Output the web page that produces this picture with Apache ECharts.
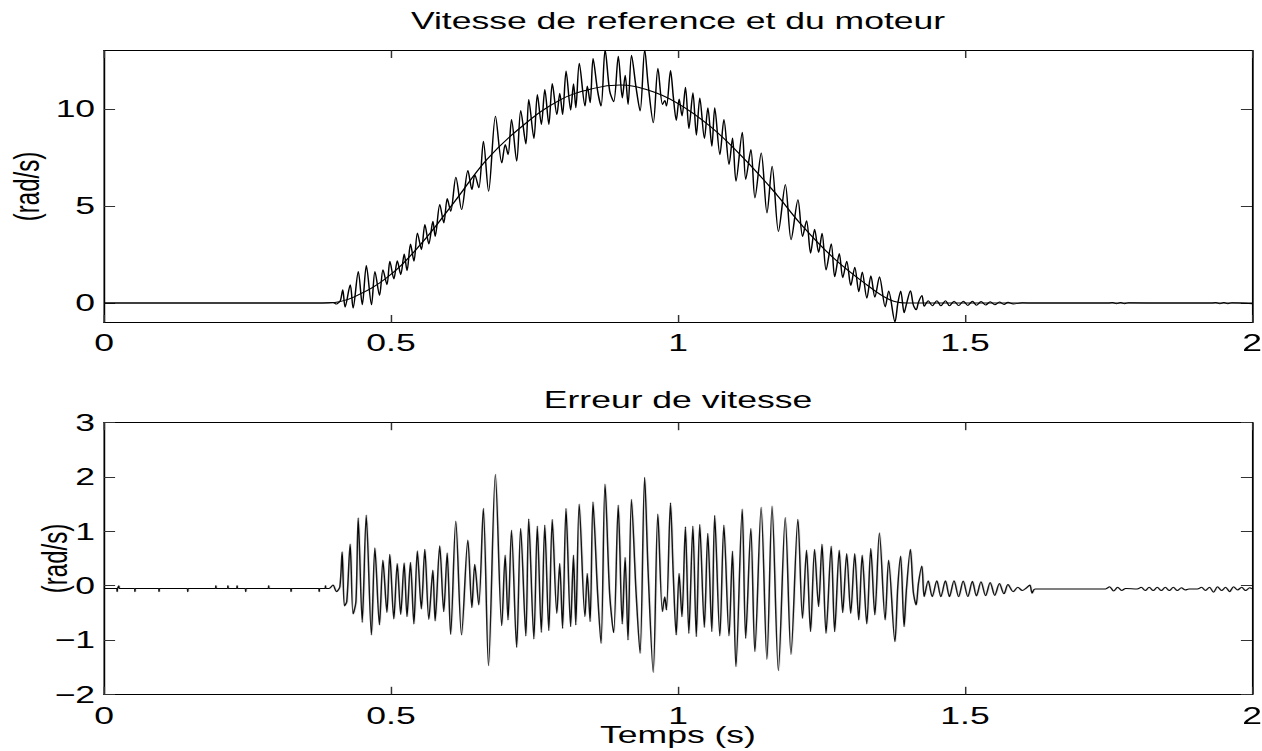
<!DOCTYPE html>
<html><head><meta charset="utf-8">
<script src="https://cdn.jsdelivr.net/npm/echarts@6/dist/echarts.min.js"></script>
<style>
html,body{margin:0;padding:0;background:#fff;overflow:hidden;width:1262px;height:751px}
#wrap{width:1262px;height:751px;overflow:hidden;position:relative}
#chart{height:751px;transform-origin:0 0;position:absolute;left:0;top:0}
</style></head>
<body><div id="wrap"><div id="chart"></div></div>
<script>
// ---------- data ----------
const titleTop = 'Vitesse de reference et du moteur';
const titleBottom = 'Erreur de vitesse';
const xName = 'Temps (s)';
const yName = '(rad/s)';
const xTicks = [0, 0.5, 1, 1.5, 2];
const yTicksTop = [0, 5, 10];
const yTicksBottom = [-2, -1, 0, 1, 2, 3];

// reference speed (smooth curve)
const tRef = [0, 0.2, 0.39, 0.41, 0.434, 0.492, 0.551, 0.609, 0.667, 0.725, 0.794, 0.853, 0.899, 0.945, 0.998, 1.056, 1.114, 1.172, 1.213, 1.271, 1.329, 1.369, 1.40, 1.6, 2.0];
const vRef = [0, 0, 0, 0.07, 0.29, 1.29, 3.0, 5.15, 7.39, 9.02, 10.45, 11.05, 11.22, 10.99, 10.31, 9.10, 7.47, 5.58, 4.1, 2.32, 0.94, 0.17, 0, 0, 0];

// motor speed (oscillating)
const tMot = [0, 0.10, 0.20, 0.30, 0.376, 0.399, 0.405, 0.408, 0.412, 0.416, 0.420, 0.429, 0.434, 0.443, 0.450, 0.457, 0.466, 0.472, 0.480, 0.486, 0.493, 0.498, 0.505, 0.511, 0.517, 0.523, 0.528, 0.534, 0.540, 0.546, 0.553, 0.559, 0.566, 0.573, 0.577, 0.585, 0.592, 0.598, 0.604, 0.613, 0.623, 0.634, 0.641, 0.646, 0.653, 0.661, 0.670, 0.682, 0.693, 0.699, 0.704, 0.710, 0.719, 0.726, 0.735, 0.740, 0.749, 0.755, 0.762, 0.768, 0.775, 0.781, 0.789, 0.794, 0.799, 0.805, 0.813, 0.818, 0.822, 0.828, 0.838, 0.842, 0.847, 0.852, 0.860, 0.866, 0.873, 0.881, 0.888, 0.896, 0.903, 0.908, 0.913, 0.919, 0.927, 0.934, 0.942, 0.948, 0.957, 0.965, 0.973, 0.977, 0.980, 0.987, 0.992, 0.997, 1.002, 1.007, 1.013, 1.019, 1.026, 1.032, 1.038, 1.046, 1.052, 1.059, 1.064, 1.073, 1.080, 1.089, 1.095, 1.101, 1.112, 1.118, 1.127, 1.134, 1.145, 1.155, 1.164, 1.175, 1.187, 1.197, 1.209, 1.217, 1.224, 1.231, 1.238, 1.245, 1.251, 1.258, 1.267, 1.273, 1.281, 1.287, 1.294, 1.301, 1.308, 1.315, 1.321, 1.329, 1.336, 1.343, 1.351, 1.361, 1.367, 1.378, 1.383, 1.388, 1.394, 1.398, 1.405, 1.410, 1.415, 1.419, 1.425, 1.429, 1.436, 1.443, 1.451, 1.458, 1.466, 1.473, 1.481, 1.489, 1.497, 1.505, 1.513, 1.520, 1.528, 1.536, 1.544, 1.552, 1.560, 1.568, 1.575, 1.584, 1.600, 1.620, 1.700, 1.750, 1.757, 1.764, 1.771, 1.778, 1.785, 1.85, 1.93, 1.937, 1.944, 1.951, 1.958, 1.965, 2.0];
const vMot = [0, 0, 0, 0, 0, 0.03, -0.05, 0.0, 0.14, 0.69, -0.21, 0.94, -0.26, 1.63, -0.09, 1.94, -0.09, 1.63, 0.39, 1.72, 0.94, 2.15, 1.24, 2.18, 1.46, 2.52, 1.66, 3.04, 2.15, 3.61, 2.75, 4.04, 3.04, 4.21, 3.43, 5.07, 4.12, 5.38, 4.72, 6.48, 4.81, 6.82, 5.84, 6.61, 5.93, 8.33, 5.75, 9.62, 7.21, 8.16, 7.64, 9.45, 7.30, 9.91, 8.19, 10.48, 8.47, 10.74, 9.19, 10.99, 9.19, 11.30, 9.70, 10.80, 9.70, 11.94, 9.93, 11.29, 10.05, 12.34, 10.14, 11.17, 10.31, 12.59, 10.91, 10.14, 13.05, 10.91, 10.36, 12.71, 10.56, 11.73, 10.22, 12.76, 11.08, 9.88, 13.05, 11.25, 9.28, 12.08, 10.22, 10.43, 10.14, 11.97, 10.56, 9.40, 10.50, 9.63, 11.11, 8.98, 10.82, 8.64, 10.56, 8.47, 10.05, 8.07, 10.05, 7.64, 9.45, 7.13, 8.50, 6.27, 8.79, 6.36, 7.90, 5.41, 7.73, 4.64, 7.04, 3.69, 6.10, 3.26, 5.32, 3.43, 4.24, 2.57, 3.80, 2.60, 3.60, 1.70, 3.05, 1.35, 2.55, 1.30, 2.15, 0.90, 1.85, 0.58, 1.60, 0.25, 1.40, 0.30, 1.35, -0.20, 0.62, -0.97, 0.0, 0.62, -0.50, -0.05, 0.63, -0.10, -0.35, 0.05, 0.39, -0.17, 0.12, -0.14, 0.12, -0.14, 0.12, -0.14, 0.10, -0.13, 0.10, -0.12, 0.09, -0.11, 0.08, -0.10, 0.07, -0.09, 0.05, -0.07, 0.04, -0.05, 0.02, 0, 0, 0, 0.03, -0.03, 0.03, -0.03, 0.02, 0, 0, 0.03, -0.04, 0.03, -0.03, 0.02, -0.03, 0];

// speed error
const tErr = [0, 0.0222, 0.023, 0.0238, 0.0252, 0.026, 0.0268, 0.0532, 0.054, 0.0548, 0.0952, 0.096, 0.0968, 0.1452, 0.146, 0.1468, 0.1942, 0.195, 0.1958, 0.2152, 0.216, 0.2168, 0.2312, 0.232, 0.2328, 0.2462, 0.247, 0.2478, 0.2862, 0.287, 0.2878, 0.3252, 0.326, 0.3268, 0.3742, 0.375, 0.3758, 0.3852, 0.386, 0.3868, 0.392,
  0.399, 0.405, 0.411, 0.415, 0.419, 0.423, 0.429, 0.434, 0.439, 0.443, 0.450, 0.457, 0.466, 0.472, 0.480, 0.486, 0.493, 0.498, 0.505, 0.511, 0.517, 0.523, 0.528, 0.534, 0.540, 0.546, 0.553, 0.559, 0.566, 0.573, 0.577, 0.585, 0.592, 0.598, 0.604, 0.613, 0.623, 0.634, 0.641, 0.646, 0.653, 0.661, 0.670, 0.682, 0.693, 0.699, 0.704, 0.710, 0.719, 0.726, 0.735, 0.740, 0.749, 0.755, 0.762, 0.768, 0.775, 0.781, 0.789, 0.794,
  0.799, 0.805, 0.813, 0.818, 0.822, 0.828, 0.838, 0.842, 0.847, 0.852, 0.860, 0.866, 0.873, 0.881, 0.888, 0.896, 0.903, 0.908, 0.913, 0.919, 0.927, 0.934, 0.942, 0.948, 0.957, 0.965, 0.973, 0.977, 0.980, 0.987, 0.992, 0.997, 1.002, 1.007, 1.013, 1.019, 1.026, 1.032, 1.038, 1.046, 1.052, 1.059, 1.064, 1.073, 1.080, 1.089, 1.095, 1.101, 1.112, 1.118, 1.127, 1.134, 1.145, 1.155, 1.164, 1.175, 1.187, 1.197, 1.209,
  1.217, 1.224, 1.231, 1.238, 1.245, 1.251, 1.258, 1.267, 1.273, 1.281, 1.287, 1.294, 1.301, 1.308, 1.315, 1.321, 1.329, 1.336, 1.343, 1.351, 1.361, 1.367, 1.378, 1.383, 1.388, 1.394, 1.398, 1.405, 1.410, 1.415, 1.419, 1.425, 1.429, 1.436, 1.443, 1.451, 1.458, 1.466, 1.473, 1.481, 1.489, 1.497, 1.505, 1.513, 1.520, 1.528, 1.536, 1.544, 1.552, 1.560, 1.568, 1.575, 1.584, 1.592, 1.600, 1.606, 1.613, 1.617, 1.622,
  1.650, 1.700, 1.745, 1.752, 1.759, 1.766, 1.773, 1.780, 1.800, 1.807, 1.814, 1.821, 1.828, 1.835, 1.842, 1.849, 1.856, 1.863, 1.870, 1.877, 1.884, 1.890, 1.905, 1.912, 1.919, 1.926, 1.933, 1.940, 1.947, 1.954, 1.961, 1.968, 1.975, 1.982, 1.989, 1.996, 2.0];
const vErr = [-0.05, -0.05, -0.11, -0.05, -0.05, 0.0, -0.05, -0.05, -0.11, -0.05, -0.05, -0.11, -0.05, -0.05, -0.11, -0.05, -0.05, 0.0, -0.05, -0.05, 0.0, -0.05, -0.05, 0.0, -0.05, -0.05, -0.11, -0.05, -0.05, 0.0, -0.05, -0.05, -0.11, -0.05, -0.05, -0.11, -0.05, -0.05, 0.0, -0.05, -0.05,
  0.011, -0.111, -0.019, 0.625, -0.375, -0.296, 0.766, -0.523, -0.296, 1.251, -0.676, 1.300, -0.910, 0.699, -0.725, 0.472, -0.492, 0.576, -0.615, 0.410, -0.529, 0.423, -0.572, 0.429, -0.707, 0.644, -0.431, 0.668, -0.621, 0.288, -0.652, 0.736, -0.480, 0.607, -0.897, 1.190, -0.910, 0.840, -0.406, 0.392, -0.357, 1.423, -1.474, 2.049, -0.738, 0.564, -0.633, 1.024, -1.137, 1.055, -0.928, 1.233, -0.983, 1.098, -0.860, 1.116, -0.830, 1.221, -0.511, 0.410,
  -0.787, 1.423, -0.756, 0.564, -0.725, 1.503, -0.572, 0.226, -0.664, 1.546, -0.130, -1.063, 1.871, -0.142, -0.866, 1.485, -0.707, 0.521, -1.002, 1.589, -0.111, -1.247, 1.994, 0.275, -1.597, 1.319, -0.480, -0.204, -0.449, 1.528, 0.165, -0.910, 0.226, -0.572, 1.086, -0.879, 1.098, -0.940, 1.128, -0.768, 0.963, -0.848, 1.294, -0.928, 1.116, -0.928, 0.638, -1.493, 1.411, -0.971, 1.055, -1.216, 1.442, -1.358, 1.466, -1.566, 1.257, -1.266, 1.221,
  -0.603, 0.656, -0.848, 0.668, -0.388, 0.766, -0.879, 0.730, -0.848, 0.656, -0.498, 0.594, -0.511, 0.594, -0.633, 0.564, -0.707, 0.686, -0.541, 0.975, -0.633, 0.472, -1.033, -0.019, 0.545, -0.756, -0.081, 0.668, -0.111, -0.357, 0.042, 0.361, -0.204, 0.091, -0.204, 0.091, -0.204, 0.091, -0.204, 0.091, -0.204, 0.085, -0.200, 0.080, -0.190, 0.070, -0.185, 0.060, -0.180, 0.040, -0.150, 0.020, -0.110, -0.030, -0.090, -0.050, 0.010, -0.140, -0.060,
  -0.06, -0.06, -0.06, -0.02, -0.10, -0.03, -0.09, -0.05, -0.06, -0.03, -0.09, -0.03, -0.09, -0.03, -0.09, -0.03, -0.09, -0.03, -0.09, -0.04, -0.08, -0.06, -0.06, -0.03, -0.09, -0.03, -0.12, -0.02, -0.09, -0.03, -0.11, -0.02, -0.08, -0.03, -0.09, -0.04, -0.06];

// ---------- chart ----------
const S = 1.48;               // horizontal stretch of the original figure
const W = 1262 / S;
const el = document.getElementById('chart');
el.style.width = W + 'px';
el.style.transform = 'scaleX(' + S + ')';
const chart = echarts.init(el, null, {renderer: 'svg', width: W, height: 751});

const FONT = '"Liberation Sans", Arial, Helvetica, sans-serif';
const lineC = {color: '#000', width: 1.2};
const tickC = {color: '#333', width: 1};
const txt = {color: '#000', fontSize: 24, fontFamily: FONT};
const pairs = (t, v) => t.map((x, i) => [x, v[i]]);
const minus = v => (v < 0 ? '\u2212' + Math.abs(v) : String(v));

const gl = 104 / S, gw = 1148 / S;
const grids = [
  {left: gl, width: gw, top: 50.5, height: 272, containLabel: false, outerBoundsMode: 'none'},
  {left: gl, width: gw, top: 422.7, height: 271.6, containLabel: false, outerBoundsMode: 'none'}
];

function xAx(g, pos, opts) {
  return Object.assign({
    gridIndex: g, type: 'value', min: 0, max: 2, interval: 0.5, position: pos,
    axisLine: {show: true, onZero: false, lineStyle: lineC},
    axisTick: {show: true, inside: true, length: 7.5, lineStyle: tickC},
    axisLabel: {show: false},
    splitLine: {show: false},
    nameMoveOverlap: false
  }, opts);
}
function yAx(g, pos, min, max, ticks, opts) {
  return Object.assign({
    gridIndex: g, type: 'value', min: min, max: max, position: pos,
    axisLine: {show: true, onZero: false, lineStyle: lineC},
    axisTick: {show: true, inside: true, length: 7.5, lineStyle: tickC, customValues: ticks},
    axisLabel: {show: false, customValues: ticks},
    splitLine: {show: false},
    nameMoveOverlap: false
  }, opts);
}

const lineSeries = (xi, yi, data, sm) => ({
  type: 'line', xAxisIndex: xi, yAxisIndex: yi, data: data, smooth: sm,
  showSymbol: false, symbol: 'none', lineStyle: {color: '#000', width: 1}, clip: true
});

const option = {
  animation: false,
  backgroundColor: '#fff',
  grid: grids,
  xAxis: [
    xAx(0, 'bottom', {axisLabel: Object.assign({show: true, margin: 8, customValues: xTicks}, txt)}),
    xAx(0, 'top', {name: titleTop, nameLocation: 'middle', nameGap: 18, nameTextStyle: txt}),
    xAx(1, 'bottom', {axisLabel: Object.assign({show: true, margin: 9, customValues: xTicks}, txt),
      name: xName, nameLocation: 'middle', nameGap: 28, nameTextStyle: txt}),
    xAx(1, 'top', {name: titleBottom, nameLocation: 'middle', nameGap: 11, nameTextStyle: txt})
  ],
  yAxis: [
    yAx(0, 'left', -1, 13, yTicksTop, {
      axisLabel: Object.assign({show: true, margin: 6, customValues: yTicksTop, formatter: minus}, txt),
      name: yName, nameLocation: 'middle', nameRotate: 90, nameGap: 40, nameTextStyle: txt}),
    yAx(0, 'right', -1, 13, yTicksTop, {}),
    yAx(1, 'left', -2, 3, yTicksBottom, {
      axisLabel: Object.assign({show: true, margin: 6, customValues: yTicksBottom, formatter: minus}, txt),
      name: yName, nameLocation: 'middle', nameRotate: 90, nameGap: 21, nameTextStyle: txt}),
    yAx(1, 'right', -2, 3, yTicksBottom, {})
  ],
  series: [
    lineSeries(0, 0, pairs(tRef, vRef), 0.4),
    lineSeries(0, 0, pairs(tMot, vMot), 0.3),
    lineSeries(2, 2, pairs(tErr, vErr), 0.3)
  ]
};
chart.setOption(option);
</script>
</body></html>
